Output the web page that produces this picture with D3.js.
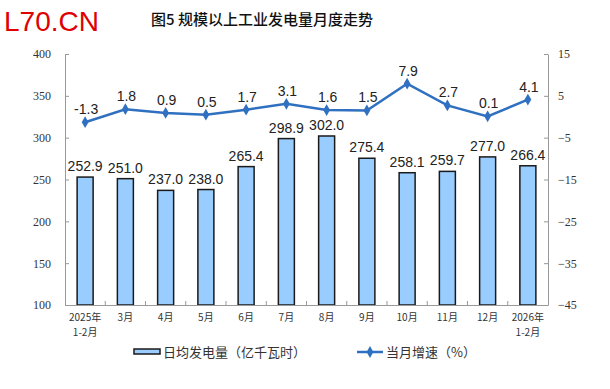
<!DOCTYPE html>
<html>
<head>
<meta charset="utf-8">
<script src="https://cdn.jsdelivr.net/npm/d3@7"></script>
<style>
  body { margin: 0; background: #fff; }
  svg { display: block; }
</style>
</head>
<body>
<svg></svg>
<script>
// data
let months = ["2025年\n1-2月", "3月", "4月", "5月", "6月", "7月", "8月", "9月", "10月", "11月", "12月", "2026年\n1-2月"];
let dailyOutput = [252.9, 251.0, 237.0, 238.0, 265.4, 298.9, 302.0, 275.4, 258.1, 259.7, 277.0, 266.4];
let growth = [-1.3, 1.8, 0.9, 0.5, 1.7, 3.1, 1.6, 1.5, 7.9, 2.7, 0.1, 4.1];
let leftTicks = [100, 150, 200, 250, 300, 350, 400];
let rightTicks = [-45, -35, -25, -15, -5, 5, 15];

let width = 610;
let height = 389;
let plotLeft = 65;
let plotRight = 548;
let plotTop = 54;
let plotBottom = 305;

let barFill = "#99CCFF";
let lineColor = "#3070C0";
let cjk = "'Noto Sans CJK SC', sans-serif";

let svg = d3.select("svg").attr("width", width).attr("height", height);

// watermark + title
svg.append("text")
  .attr("x", 4).attr("y", 31)
  .attr("font-family", "'Liberation Sans', Arial, sans-serif")
  .attr("font-size", 28)
  .attr("fill", "#E00000")
  .text("L70.CN");

svg.append("text")
  .attr("x", 262).attr("y", 25)
  .attr("text-anchor", "middle")
  .attr("font-family", cjk)
  .attr("font-size", 15)
  .attr("font-weight", 500)
  .attr("fill", "#111")
  .text("图5  规模以上工业发电量月度走势");

// scales
let xBand = d3.scaleBand().domain(months).range([plotLeft, plotRight]);
let yScale = d3.scaleLinear().domain([100, 400]).range([plotBottom, plotTop]);
let y2Scale = d3.scaleLinear().domain([-45, 15]).range([plotBottom, plotTop]);
let cx = (i) => xBand(months[i]) + xBand.bandwidth() / 2;

// axes
let yAxis = d3.axisLeft(yScale).tickValues(leftTicks).tickSizeInner(-4).tickSizeOuter(0).tickPadding(14);
let y2Axis = d3.axisRight(y2Scale).tickValues(rightTicks).tickSizeInner(-4).tickSizeOuter(0).tickPadding(10);

let gy = svg.append("g").attr("transform", "translate(" + plotLeft + ",0)").call(yAxis);
let gy2 = svg.append("g").attr("transform", "translate(" + plotRight + ",0)").call(y2Axis);
[gy, gy2].forEach((g) => {
  g.select(".domain").attr("stroke", "#999");
  g.selectAll(".tick line").attr("stroke", "#999");
  g.selectAll(".tick text")
    .attr("font-family", "'Liberation Serif', 'Times New Roman', serif")
    .attr("font-size", 12)
    .attr("fill", "#333");
});

// bars
svg.selectAll("rect.bar")
  .data(dailyOutput)
  .enter()
  .append("rect")
  .attr("class", "bar")
  .attr("x", (d, i) => cx(i) - 8)
  .attr("width", 16)
  .attr("y", (d) => yScale(d))
  .attr("height", (d) => yScale(100) - yScale(d))
  .attr("fill", barFill)
  .attr("stroke", "#1a1a1a")
  .attr("stroke-width", 1.5);

// x axis
let xAxis = d3.axisBottom(xBand).tickSize(0).tickFormat("");
let gx = svg.append("g").attr("transform", "translate(0," + plotBottom + ")").call(xAxis);
gx.select(".domain").attr("stroke", "#999");
// boundary ticks
svg.selectAll("line.xtick")
  .data(months.slice(1))
  .enter()
  .append("line")
  .attr("x1", (d) => xBand(d))
  .attr("x2", (d) => xBand(d))
  .attr("y1", plotBottom)
  .attr("y2", plotBottom - 4)
  .attr("stroke", "#999");

// x labels, one text per line
let labelLines = [];
months.forEach((m, i) => {
  m.split("\n").forEach((t, k) => labelLines.push({ i: i, k: k, t: t }));
});
svg.selectAll("text.xl")
  .data(labelLines)
  .enter()
  .append("text")
  .attr("class", "xl")
  .attr("x", (d) => cx(d.i))
  .attr("y", (d) => 321 + d.k * 15)
  .attr("text-anchor", "middle")
  .attr("font-family", cjk)
  .attr("font-size", 10)
  .attr("fill", "#333")
  .text((d) => d.t);

// bar labels
svg.selectAll("text.bl")
  .data(dailyOutput)
  .enter()
  .append("text")
  .attr("class", "bl")
  .attr("x", (d, i) => cx(i))
  .attr("y", (d) => yScale(d) - 6)
  .attr("text-anchor", "middle")
  .attr("font-family", "'Liberation Sans', Arial, sans-serif")
  .attr("font-size", 14)
  .attr("fill", "#222")
  .text((d) => d.toFixed(1));

// line
let line = d3.line()
  .x((d, i) => cx(i))
  .y((d) => y2Scale(d));

svg.append("path")
  .datum(growth)
  .attr("d", line)
  .attr("fill", "none")
  .attr("stroke", lineColor)
  .attr("stroke-width", 2.5);

let diamond = d3.symbol().type(d3.symbolDiamond).size(40);
svg.selectAll("path.pt")
  .data(growth)
  .enter()
  .append("path")
  .attr("class", "pt")
  .attr("d", diamond)
  .attr("transform", (d, i) => "translate(" + cx(i) + "," + y2Scale(d) + ")")
  .attr("fill", lineColor);

svg.selectAll("text.ll")
  .data(growth)
  .enter()
  .append("text")
  .attr("class", "ll")
  .attr("x", (d, i) => cx(i) + 1)
  .attr("y", (d) => y2Scale(d) - 8)
  .attr("text-anchor", "middle")
  .attr("font-family", "'Liberation Sans', Arial, sans-serif")
  .attr("font-size", 14)
  .attr("fill", "#222")
  .text((d) => d.toFixed(1));

// legend
let legend = svg.append("g");
legend.append("rect")
  .attr("x", 134).attr("y", 349).attr("width", 26).attr("height", 5)
  .attr("fill", barFill).attr("stroke", "#1a1a1a").attr("stroke-width", 1.5);
legend.append("text")
  .attr("x", 163).attr("y", 357)
  .attr("font-family", cjk).attr("font-size", 13).attr("fill", "#333")
  .text("日均发电量（亿千瓦时）");
legend.append("line")
  .attr("x1", 357).attr("x2", 383).attr("y1", 352).attr("y2", 352)
  .attr("stroke", lineColor).attr("stroke-width", 2.5);
legend.append("path")
  .attr("d", diamond)
  .attr("transform", "translate(370,352)")
  .attr("fill", lineColor);
legend.append("text")
  .attr("x", 386).attr("y", 357)
  .attr("font-family", cjk).attr("font-size", 13).attr("fill", "#333")
  .text("当月增速（%）");
</script>
</body>
</html>
